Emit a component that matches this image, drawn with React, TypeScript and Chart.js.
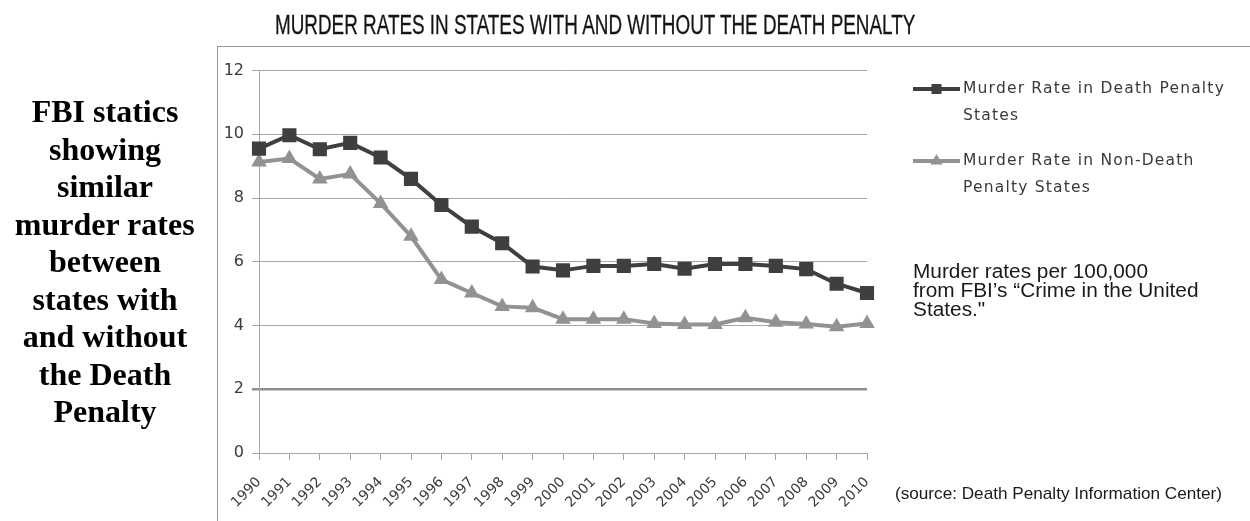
import React, { useEffect, useRef } from "react";
import { Chart, registerables } from "chart.js";

Chart.register(...registerables);

// ---------------- data ----------------
const years = [
  "1990", "1991", "1992", "1993", "1994", "1995", "1996", "1997", "1998", "1999", "2000",
  "2001", "2002", "2003", "2004", "2005", "2006", "2007", "2008", "2009", "2010",
];
const deathPenaltyRates = [
  9.55, 9.97, 9.53, 9.73, 9.27, 8.6, 7.78, 7.1, 6.58, 5.85, 5.73,
  5.87, 5.87, 5.93, 5.78, 5.93, 5.93, 5.87, 5.77, 5.31, 5.02,
];
const nonDeathPenaltyRates = [
  9.13, 9.24, 8.6, 8.75, 7.83, 6.8, 5.44, 5.02, 4.6, 4.56, 4.2,
  4.2, 4.2, 4.06, 4.03, 4.03, 4.24, 4.1, 4.05, 3.96, 4.06,
];
const seriesLabels = [
  "Murder Rate in Death Penalty States",
  "Murder Rate in Non-Death Penalty States",
];
const yTickValues = [0, 2, 4, 6, 8, 10, 12];
const chartTitle = "MURDER RATES IN STATES WITH AND WITHOUT THE DEATH PENALTY";
const sideNote = [
  "FBI statics", "showing", "similar", "murder rates", "between",
  "states with", "and without", "the Death", "Penalty",
];
const rateNote = [
  "Murder rates per 100,000",
  "from FBI\u2019s \u201cCrime in the United",
  "States.\"",
];
const sourceNote = "(source: Death Penalty Information Center)";

// ---------------- styles / layout ----------------
const DARK = "#3f3f3f";
const LIGHT = "#929292";
const GRID = "#a6a6a6";
const TICK_TEXT = "#3a3a3a";

const W = 1250;
const H = 521;
const PLOT = { left: 259, right: 867, top: 70.5, bottom: 453 };
const Y_AXIS_W = 60;
const X_AXIS_H = 60;

const LEGEND = { lineX0: 913, lineX1: 960, textX: 963, rows: [89, 161], lineGap: 27, fitWidth: 262, wrapWidth: 268 };

const measureCtx = (() => {
  const c = document.createElement("canvas");
  return c.getContext("2d") as CanvasRenderingContext2D;
})();
function textWidth(text: string, font: string) {
  measureCtx.font = font;
  return measureCtx.measureText(text).width;
}

type TxtProps = {
  text: string;
  left?: number;
  center?: number;
  baseline: number;
  family: string;
  size: number;
  weight?: string;
  color?: string;
  fitWidth?: number;
  scale?: number;
  stroke?: number;
  asc: number;
  desc: number;
};

function Txt(p: TxtProps) {
  const weight = p.weight || "normal";
  const font = `${weight} ${p.size}px ${p.family}`;
  const natural = textWidth(p.text, font);
  const scale = p.fitWidth ? p.fitWidth / natural : p.scale || 1;
  const w = natural * scale;
  const left = p.center !== undefined ? p.center - w / 2 : p.left || 0;
  const top = p.baseline - (p.size * (1 + p.asc - p.desc)) / 2;
  return (
    <div
      style={{
        position: "absolute",
        left,
        top,
        whiteSpace: "nowrap",
        fontFamily: p.family,
        fontSize: p.size,
        fontWeight: weight as any,
        lineHeight: `${p.size}px`,
        color: p.color || "#000",
        transform: `scaleX(${scale})`,
        transformOrigin: "0 0",
        WebkitTextStroke: p.stroke ? `${p.stroke}px ${p.color || "#000"}` : undefined,
      }}
    >
      {p.text}
    </div>
  );
}

const SANS = { asc: 0.905, desc: 0.212 };
const SERIF = { asc: 0.891, desc: 0.216 };

function wrapLabel(label: string, font: string, spacing: number, maxW: number) {
  const words = label.split(" ");
  const lines: string[] = [];
  let cur = "";
  for (const w of words) {
    const trial = cur ? cur + " " + w : w;
    const tw = textWidth(trial, font) + spacing * trial.length;
    if (tw > maxW && cur) {
      lines.push(cur);
      cur = w;
    } else cur = trial;
  }
  if (cur) lines.push(cur);
  return lines;
}

const sideLegend = {
  id: "sideLegend",
  afterDraw(chart: any) {
    const ctx: CanvasRenderingContext2D = chart.ctx;
    const font = '15.5px "DejaVu Sans"';
    const ref = "Murder Rate in Death Penalty";
    const spacing = (LEGEND.fitWidth - textWidth(ref, font)) / ref.length;
    chart.data.datasets.forEach((ds: any, i: number) => {
      const y = LEGEND.rows[i];
      ctx.save();
      ctx.strokeStyle = ds.borderColor;
      ctx.lineWidth = 4;
      ctx.beginPath();
      ctx.moveTo(LEGEND.lineX0, y);
      ctx.lineTo(LEGEND.lineX1, y);
      ctx.stroke();
      const mx = (LEGEND.lineX0 + LEGEND.lineX1) / 2;
      ctx.fillStyle = ds.borderColor;
      if (ds.pointStyle === "rect") {
        ctx.fillRect(mx - 5, y - 5, 10, 10);
      } else {
        const r = 7;
        ctx.beginPath();
        ctx.moveTo(mx, y - r);
        ctx.lineTo(mx + r * 0.866, y + r / 2);
        ctx.lineTo(mx - r * 0.866, y + r / 2);
        ctx.closePath();
        ctx.fill();
      }
      ctx.font = font;
      (ctx as any).letterSpacing = `${spacing}px`;
      ctx.fillStyle = TICK_TEXT;
      ctx.textBaseline = "middle";
      ctx.textAlign = "left";
      const lines = wrapLabel(ds.label, font, spacing, LEGEND.wrapWidth);
      lines.forEach((ln, k) => ctx.fillText(ln, LEGEND.textX, y + k * LEGEND.lineGap));
      ctx.restore();
    });
  },
};

export default function App() {
  const canvasRef = useRef<HTMLCanvasElement>(null);

  useEffect(() => {
    const canvas = canvasRef.current;
    if (!canvas) return;
    const chart = new Chart(canvas, {
      type: "line",
      data: {
        labels: years,
        datasets: [
          {
            label: seriesLabels[0],
            data: deathPenaltyRates,
            borderColor: DARK,
            backgroundColor: DARK,
            borderWidth: 4,
            pointStyle: "rect",
            pointRadius: 10,
            pointBorderWidth: 0,
            pointBackgroundColor: DARK,
            tension: 0,
          },
          {
            label: seriesLabels[1],
            data: nonDeathPenaltyRates,
            borderColor: LIGHT,
            backgroundColor: LIGHT,
            borderWidth: 4,
            pointStyle: "triangle",
            pointRadius: 9,
            pointBorderWidth: 0,
            pointBackgroundColor: LIGHT,
            tension: 0,
          },
        ],
      },
      options: {
        animation: false,
        responsive: false,
        maintainAspectRatio: false,
        devicePixelRatio: 1,
        layout: {
          padding: {
            left: PLOT.left - Y_AXIS_W,
            right: W - PLOT.right,
            top: PLOT.top,
            bottom: H - PLOT.bottom - X_AXIS_H,
          },
        },
        plugins: {
          legend: { display: false },
          tooltip: { enabled: false },
          title: { display: false },
        },
        scales: {
          x: {
            type: "category",
            offset: false,
            afterFit: (s: any) => {
              s.height = X_AXIS_H;
            },
            grid: { drawOnChartArea: false, drawTicks: true, tickLength: 7, color: GRID, lineWidth: 1 },
            border: { color: GRID, width: 1 },
            ticks: {
              autoSkip: false,
              maxRotation: 45,
              minRotation: 45,
              padding: 14,
              color: TICK_TEXT,
              font: { family: "DejaVu Sans", size: 14 },
            },
          },
          y: {
            min: 0,
            max: 12,
            afterFit: (s: any) => {
              s.width = Y_AXIS_W;
            },
            afterBuildTicks: (s: any) => {
              s.ticks = yTickValues.map((v) => ({ value: v }));
            },
            grid: {
              color: (c: any) => (c.tick && c.tick.value === 2 ? "#8f8f8f" : GRID),
              lineWidth: (c: any) => (c.tick && c.tick.value === 2 ? 2.5 : 1),
              tickLength: 7,
              drawTicks: true,
            },
            border: { color: GRID, width: 1 },
            ticks: {
              padding: 8,
              color: TICK_TEXT,
              font: { family: "DejaVu Sans", size: 16 },
            },
          },
        },
      },
      plugins: [sideLegend],
    } as any);
    return () => chart.destroy();
  }, []);

  const noteFont = 'normal 20px "Liberation Sans"';
  const noteScale = 235 / textWidth(rateNote[0], noteFont);

  return (
    <div style={{ position: "absolute", left: 0, top: 0, width: W, height: H, background: "#fff", overflow: "hidden" }}>
      {/* frame of the chart picture */}
      <div style={{ position: "absolute", left: 217, top: 46, width: W - 217, height: 1, background: "#9a9a9a" }} />
      <div style={{ position: "absolute", left: 217, top: 46, width: 1, height: H - 46, background: "#9a9a9a" }} />
      <canvas ref={canvasRef} width={W} height={H} style={{ position: "absolute", left: 0, top: 0, width: W, height: H }} />
      <Txt
        text={chartTitle}
        left={275}
        baseline={35}
        family={'"Liberation Sans Narrow", "Liberation Sans"'}
        size={27}
        fitWidth={642}
        stroke={0.3}
        color="#141414"
        {...SANS}
      />
      {sideNote.map((t, i) => (
        <Txt key={i} text={t} center={105} baseline={122 + i * 37.5} family={'"Liberation Serif"'} size={32} weight="bold" color="#000" {...SERIF} />
      ))}
      {rateNote.map((t, i) => (
        <Txt
          key={i}
          text={t}
          left={913}
          baseline={278 + i * 19}
          family={'"Liberation Sans"'}
          size={20}
          scale={noteScale}
          color="#1a1a1a"
          {...SANS}
        />
      ))}
      <Txt text={sourceNote} left={895} baseline={499} family={'"Liberation Sans Narrow", "Liberation Sans"'} size={17} fitWidth={327} color="#1a1a1a" {...SANS} />
    </div>
  );
}
